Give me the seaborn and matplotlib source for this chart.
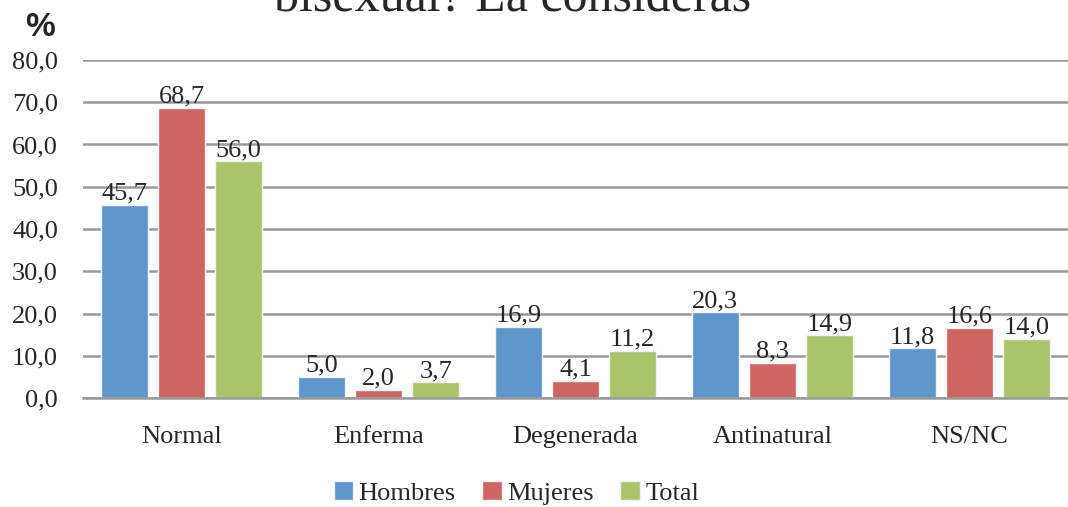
import pandas as pd
import seaborn as sns
import matplotlib.pyplot as plt

# datos
categorias = ["Normal", "Enferma", "Degenerada", "Antinatural", "NS/NC"]
hombres = [45.7, 5.0, 16.9, 20.3, 11.8]
mujeres = [68.7, 2.0, 4.1, 8.3, 16.6]
total = [56.0, 3.7, 11.2, 14.9, 14.0]
series = ["Hombres", "Mujeres", "Total"]
colores = ["#5E95CA", "#CE6560", "#A9C46A"]
yticks = [0, 10, 20, 30, 40, 50, 60, 70, 80]

df = pd.DataFrame({
    "categoria": categorias * 3,
    "serie": [s for s in series for _ in categorias],
    "valor": hombres + mujeres + total,
})

sns.set_style("white")
serif = ["Liberation Serif", "DejaVu Serif"]
plt.rcParams["font.family"] = serif
fs = 19

fig = plt.figure(figsize=(10.68, 5.07), dpi=100)
ax = fig.add_axes([83 / 1068, 1 - 398 / 507, 985 / 1068, 338 / 507])

sns.barplot(data=df, x="categoria", y="valor", hue="serie", palette=colores,
            saturation=1, width=0.87, gap=0.17, edgecolor="#eef3f8", linewidth=1.0,
            ax=ax, legend=True)

ax.set_ylim(0, 80)
ax.set_xlim(-0.5, 4.5)
ax.set_yticks(yticks)
ax.set_yticklabels([f"{v:.1f}".replace(".", ",") for v in yticks], fontsize=fs)
ax.tick_params(axis="x", labelsize=fs, pad=20, length=0)
ax.tick_params(axis="y", pad=18, length=0)
ax.set_xlabel("")
ax.set_ylabel("")
ax.grid(axis="y", color="#999999", linewidth=1.8)
ax.set_axisbelow(True)
for s in ["top", "right", "left"]:
    ax.spines[s].set_visible(False)
ax.spines["bottom"].set_color("#999999")
ax.spines["bottom"].set_linewidth(1.8)

# etiquetas de valor
for cont in ax.containers:
    ax.bar_label(cont, labels=[f"{b.get_height():.1f}".replace(".", ",") for b in cont],
                 fontsize=fs, padding=0)

# leyenda abajo
handles, labels = ax.get_legend_handles_labels()
ax.legend(handles, labels, loc="center", bbox_to_anchor=(0.44, -0.28), ncol=3,
          frameon=False, fontsize=fs, handlelength=0.75, handleheight=0.75,
          handletextpad=0.2, columnspacing=1.0)

# título (cortado arriba)
fig.text(0.48, 1 - 12 / 507, "bisexual? La consideras", ha="center", va="baseline",
         fontsize=36)
fig.text(40 / 1068, 1 - 28 / 507, "%", ha="center", va="center", fontsize=24,
         fontweight="bold", family=["Liberation Sans", "DejaVu Sans"])

fig.savefig("out.png", dpi=100)
